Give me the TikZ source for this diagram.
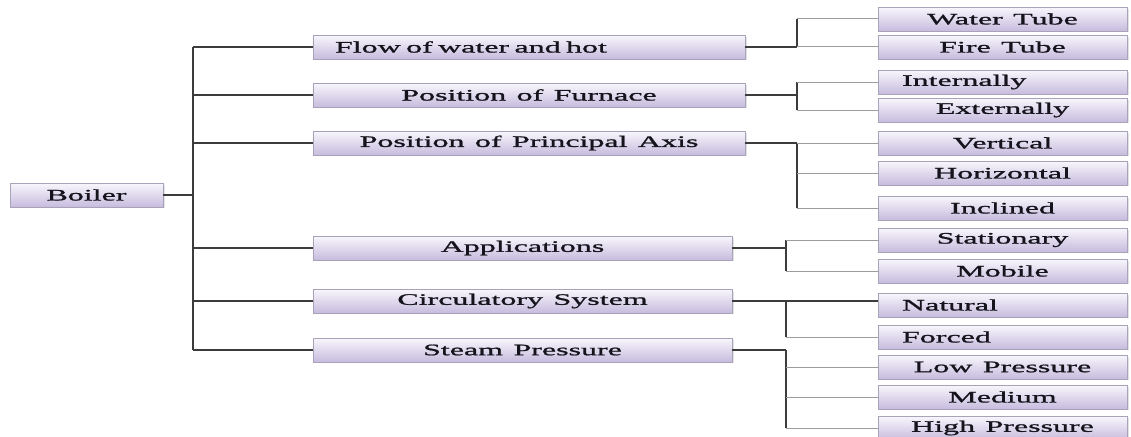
\documentclass[tikz,border=0pt]{standalone}
\usepackage{fontspec}
\setmainfont{Liberation Serif}[FakeStretch=2.0, FakeBold=1.2, WordSpace=1.3]
\usepackage{tikz}
\usetikzlibrary{calc, shadows}
\definecolor{boxTop} {HTML}{F8F6FC}
\definecolor{boxBot} {HTML}{C7BCDE}
\definecolor{boxEdge}{HTML}{A9A3BA}
\definecolor{cInk}   {HTML}{15131C}
\definecolor{cLine}  {HTML}{3C3C3C}
\definecolor{cTwig}  {HTML}{9C9C9C}

\begin{document}
\begin{tikzpicture}[x=1pt, y=-1pt,
  box/.style={draw=boxEdge, top color=boxTop, bottom color=boxBot,
    minimum height=23.5pt, inner sep=0pt, text=cInk,
    font=\fontsize{16}{18}\selectfont,
    drop shadow={shadow xshift=1.5pt, shadow yshift=-1.5pt, fill=black!22}},
  rootbox/.style={box, minimum width=153pt},
  kindbox/.style={box, minimum width=432pt},
  kindboxs/.style={box, minimum width=419pt},
  leafbox/.style={box, minimum width=249pt},
  flush/.style={text width=#1, align=left},
  trunk/.style={draw=cLine, line width=2.6pt},
  branch/.style={draw=cLine, line width=1.1pt},
  twig/.style={draw=cTwig, line width=1pt},
]
\useasboundingbox (0,0) rectangle (1131,436);

% root and first level
\node[rootbox] (boiler) at (86.5,195) {Boiler};
\node[kindbox, flush=388pt] (flow) at (529,47) {Flow of water and hot};
\node[kindbox]  (furnace) at (529,95)    {Position of Furnace};
\node[kindbox]  (axis)    at (529,143)   {Position of Principal Axis};
\node[kindboxs] (appl)    at (522.5,248) {Applications};
\node[kindboxs] (circ)    at (522.5,301) {Circulatory System};
\node[kindboxs] (steam)   at (522.5,350) {Steam Pressure};

% second level
\foreach \n/\y/\t in {water/19/Water Tube, fire/47/Fire Tube, extern/110/Externally,
    vert/143/Vertical, horiz/173/Horizontal, incl/208/Inclined, stat/240/Stationary,
    mobile/271/Mobile, lowp/367/Low Pressure, medp/397/Medium, highp/428/High Pressure}{
  \node[leafbox] (\n) at (1002.5,\y) {\t};
}
\foreach \n/\y/\t in {intern/82/Internally, natural/305/Natural, forced/337/Forced}{
  \node[leafbox, flush=201pt] (\n) at (1002.5,\y) {\t};
}

% trunk
\coordinate (tk) at (193,0);
\coordinate (kA) at (797,0);
\coordinate (kB) at (786,0);
\draw[branch] (boiler.east) -- (boiler.east -| tk);
\draw[trunk] (tk |- flow.west) -- (tk |- steam.west);
\foreach \k in {flow, furnace, axis, appl, circ, steam}{
  \draw[branch] (tk |- \k.west) -- (\k.west);
}

% elbows to the second level
\draw[branch] (flow.east) -- (kA |- flow.east);
\draw[trunk] (kA |- water.west) -- (kA |- fire.west);
\draw[branch] (furnace.east) -- (kA |- furnace.east);
\draw[trunk] (kA |- intern.west) -- (kA |- extern.west);
\draw[branch] (axis.east) -- (kA |- axis.east);
\draw[trunk] (kA |- vert.west) -- (kA |- incl.west);
\foreach \l in {water, fire, intern, extern, vert, horiz, incl}{
  \draw[twig] (kA |- \l.west) -- (\l.west);
}
\draw[branch] (appl.east) -- (kB |- appl.east);
\draw[trunk] (kB |- stat.west) -- (kB |- mobile.west);
\draw[branch] (circ.east) -- (circ.east -| natural.west);
\draw[trunk] (kB |- circ.east) -- (kB |- forced.west);
\draw[branch] (steam.east) -- (kB |- steam.east);
\draw[trunk] (kB |- steam.east) -- (kB |- highp.west);
\foreach \l in {stat, mobile, forced, lowp, medp, highp}{
  \draw[twig] (kB |- \l.west) -- (\l.west);
}
\end{tikzpicture}
\end{document}
